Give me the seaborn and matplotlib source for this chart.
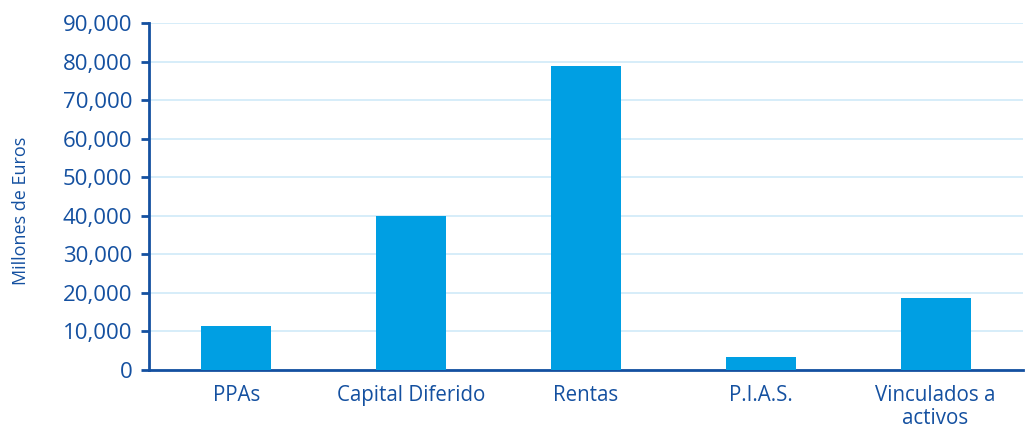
import matplotlib
matplotlib.use("Agg")
import matplotlib.pyplot as plt
import matplotlib.ticker as mticker
import seaborn as sns
import pandas as pd

# values (millions of euros)
categories = ["PPAs", "Capital Diferido", "Rentas", "P.I.A.S.", "Vinculados a\nactivos"]
values = [11400, 39900, 78900, 3400, 18700]

df = pd.DataFrame({"cat": categories, "val": values})

dark = "#1450A0"
bar_color = "#009FE3"
grid_color = "#CFEAF8"

sns.set_style("white")
plt.rcParams["font.family"] = ["Open Sans", "DejaVu Sans"]

fig = plt.figure(figsize=(10.25, 4.28), dpi=100)
ax = fig.add_axes([0.1454, 0.1355, 0.8526, 0.8105])

sns.barplot(data=df, x="cat", y="val", color=bar_color, width=0.4,
            saturation=1, linewidth=0, ax=ax, zorder=3)

ax.set_xlim(-0.5, 4.5)
ax.set_ylim(0, 90000)
ax.yaxis.set_major_locator(mticker.MultipleLocator(10000))
ax.yaxis.set_major_formatter(mticker.FuncFormatter(lambda v, p: f"{int(v):,}"))
ax.grid(axis="y", color=grid_color, linewidth=1.2, zorder=0)
ax.set_axisbelow(True)

# category boundaries as ticks
ax.set_xticks([i + 0.5 for i in range(-1, len(categories))], minor=True)
ax.tick_params(axis="x", which="major", length=0, labelsize=14.8, labelcolor=dark, pad=11)
ax.tick_params(axis="x", which="minor", length=7, width=2, color=dark, direction="out")
ax.tick_params(axis="y", length=6, width=2, color=dark, labelsize=16, labelcolor=dark,
               direction="out", pad=6, left=True)

for s in ["top", "right"]:
    ax.spines[s].set_visible(False)
for s in ["left", "bottom"]:
    ax.spines[s].set_color(dark)
    ax.spines[s].set_linewidth(2)

ax.set_xlabel("")
ax.set_ylabel("Millones de Euros", color=dark, fontsize=13)
ax.yaxis.set_label_coords(-0.136, 0.458)
for lbl in ax.get_xticklabels():
    lbl.set_linespacing(1.1)

fig.savefig("out.png", dpi=100)
